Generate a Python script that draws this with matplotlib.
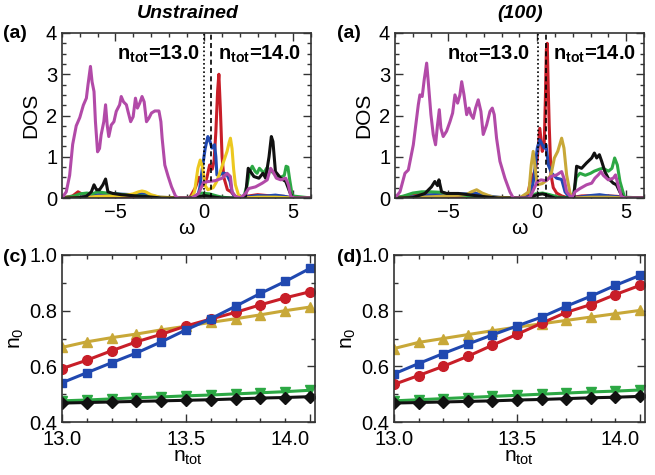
import matplotlib
matplotlib.use("Agg")
import matplotlib.pyplot as plt
from matplotlib.ticker import MultipleLocator

plt.rcParams["font.family"] = ["Liberation Sans", "DejaVu Sans"]
plt.rcParams["mathtext.fontset"] = "custom"
plt.rcParams["mathtext.rm"] = "Liberation Sans"
plt.rcParams["mathtext.it"] = "Liberation Sans:italic"
plt.rcParams["mathtext.bf"] = "Liberation Sans:bold"

# ---- DOS, unstrained (panel a, left) ----
mag_a_w = [-8.0, -7.76, -7.57, -7.4, -7.2, -7.0, -6.8, -6.63, -6.54, -6.4, -6.31, -6.2, -6.12, -6.0,
           -5.89, -5.8, -5.65, -5.55, -5.46, -5.37, -5.23, -5.08, -4.95, -4.76, -4.67, -4.54, -4.38,
           -4.29, -4.14, -4.0, -3.87, -3.76, -3.63, -3.5, -3.38, -3.25, -3.12, -2.97, -2.78, -2.55,
           -2.44, -2.37, -2.22, -2.03, -1.84, -1.61, -1.45, -0.7, -0.32, -0.04, 0.24, 0.62, 1.0,
           1.28, 1.47, 1.56, 1.75, 2.03, 2.32, 2.5, 2.88, 3.26, 3.54, 3.73, 3.86, 4.05, 4.3, 4.58,
           4.73, 4.86, 5.05, 6.0]
mag_a = [0, 0.15, 0.55, 1.3, 1.75, 1.95, 2.25, 2.42, 2.74, 3.19, 2.82, 2.58, 1.85, 1.12,
         1.2, 1.53, 1.85, 2.26, 1.77, 1.49, 1.77, 1.85, 2.10, 2.26, 2.46, 2.33, 2.26,
         2.10, 1.85, 1.97, 2.42, 2.18, 2.30, 2.46, 2.33, 1.85, 1.93, 2.06, 2.11, 2.11,
         1.85, 1.45, 0.80, 0.52, 0.27, 0.04, 0, 0, 0.11, 0.38, 0.40, 0.42, 0.48,
         0.60, 0.52, 0.15, 0.04, 0, 0.11, 0.23, 0.27, 0.36, 0.44, 0.72, 0.64, 0.48, 0.44, 0.48,
         0.32, 0.04, 0, 0]

red_a_w = [-8.0, -7.4, -7.1, -6.9, -6.6, -6.0, -5.0, -4.0, -3.0, -1.0, -0.8, -0.5, -0.3, -0.15,
           0.0, 0.15, 0.3, 0.45, 0.55, 0.65, 0.75, 0.82, 0.9, 1.0, 1.1, 1.3, 1.5, 1.7, 2.0, 2.5,
           3.0, 3.5, 4.0, 4.5, 4.9, 6.0]
red_a = [0, 0.05, 0.15, 0.1, 0.05, 0.03, 0.02, 0.02, 0.01, 0, 0.02, 0.25, 0.5, 0.35,
         0.3, 0.5, 0.8, 0.7, 0.9, 1.6, 2.6, 3.0, 2.2, 1.0, 0.5, 0.2, 0.15, 0.05, 0, 0.05,
         0.08, 0.06, 0.05, 0.04, 0, 0]

blue_a_w = [-8.0, -7.0, -6.5, -6.0, -5.0, -4.0, -3.5, -3.0, -2.5, -1.5, -0.4, -0.26, -0.1, 0.05,
            0.2, 0.3, 0.43, 0.58, 0.65, 0.71, 0.85, 0.99, 1.15, 1.28, 1.45, 1.56, 1.75, 2.5, 3.0,
            3.5, 4.0, 4.5, 5.0, 6.0]
blue_a = [0, 0.02, 0.05, 0.08, 0.1, 0.08, 0.1, 0.06, 0.02, 0, 0, 0.23, 0.75, 1.2,
          1.49, 1.4, 1.21, 1.29, 1.0, 0.56, 0.55, 0.6, 0.6, 0.56, 0.4, 0.15, 0, 0.03, 0.06,
          0.05, 0.07, 0.04, 0, 0]

yel_a_w = [-8.0, -6.5, -6.0, -5.0, -4.5, -4.0, -3.7, -3.5, -3.3, -3.0, -2.5, -1.0, -0.7, -0.55,
           -0.36, -0.23, -0.1, 0.05, 0.2, 0.5, 0.7, 0.9, 1.1, 1.28, 1.4, 1.47, 1.56, 1.65, 1.75,
           1.94, 2.2, 3.0, 4.0, 5.0, 6.0]
yel_a = [0, 0.02, 0.04, 0.05, 0.06, 0.1, 0.15, 0.17, 0.15, 0.08, 0.02, 0, 0.02, 0.15,
         0.72, 0.92, 0.75, 0.3, 0.2, 0.25, 0.4, 0.64, 0.9, 1.13, 1.35, 1.45, 1.2, 0.7, 0.32,
         0.05, 0, 0.02, 0.02, 0, 0]

green_a_w = [-8.0, -7.3, -7.0, -6.6, -6.3, -6.0, -5.5, -5.0, -4.5, -4.0, -3.5, -3.0, -2.5, -1.0,
             -0.5, -0.2, 0.3, 0.7, 1.0, 1.5, 2.2, 2.4, 2.55, 2.7, 2.85, 2.97, 3.1, 3.25, 3.35,
             3.5, 3.7, 3.9, 4.1, 4.3, 4.5, 4.6, 4.7, 4.8, 4.95, 6.0]
green_a = [0, 0.05, 0.1, 0.12, 0.1, 0.15, 0.12, 0.1, 0.08, 0.06, 0.05, 0.03, 0.01, 0,
           0.05, 0.12, 0.1, 0.05, 0.02, 0, 0, 0.3, 0.65, 0.77, 0.65, 0.6, 0.72, 0.65, 0.6,
           0.72, 0.68, 0.6, 0.52, 0.5, 0.55, 0.77, 0.75, 0.45, 0.05, 0]

black_a_w = [-8.0, -7.0, -6.63, -6.35, -6.2, -6.06, -5.89, -5.7, -5.55, -5.42, -5.14, -4.67, -4.1,
             -3.16, -2.4, -1.0, -0.3, 0.0, 0.3, 0.6, 1.0, 2.2, 2.32, 2.47, 2.6, 2.79, 3.07, 3.3,
             3.45, 3.64, 3.77, 3.86, 4.0, 4.3, 4.58, 4.8, 4.96, 6.0]
black_a = [0, 0.01, 0.04, 0.15, 0.32, 0.2, 0.2, 0.32, 0.46, 0.15, 0.11, 0.08, 0.06,
           0.03, 0, 0, 0.03, 0.06, 0.04, 0.02, 0, 0, 0.04, 0.72, 0.64, 0.52, 0.48, 0.6,
           0.48, 1.0, 1.49, 1.37, 0.64, 0.48, 0.4, 0.15, 0, 0]

# ---- DOS, (100) strain (panel a, right) ----
mag_b_w = [-8.0, -7.72, -7.44, -7.25, -6.97, -6.69, -6.6, -6.47, -6.36, -6.22, -6.13, -5.98, -5.85,
           -5.72, -5.61, -5.51, -5.42, -5.29, -5.1, -4.91, -4.76, -4.63, -4.48, -4.35, -4.25,
           -4.12, -3.97, -3.84, -3.73, -3.6, -3.47, -3.32, -3.17, -3.04, -2.85, -2.66, -2.53,
           -2.42, -2.29, -2.1, -1.82, -1.54, -1.35, -0.5, -0.38, 0.0, 0.21, 0.49, 0.77, 1.09,
           1.37, 1.52, 1.65, 1.93, 2.12, 2.4, 2.77, 3.06, 3.24, 3.43, 3.58, 3.71, 3.99, 4.27,
           4.4, 4.55, 4.73, 4.9, 6.0]
mag_b = [0, 0.15, 0.6, 0.68, 1.29, 2.26, 2.5, 2.46, 2.86, 3.27, 2.82, 2.02, 1.54,
         1.29, 1.77, 2.14, 1.69, 1.49, 1.62, 1.85, 2.06, 2.5, 2.3, 2.5, 2.82,
         2.5, 2.02, 2.18, 2.02, 1.93, 2.18, 2.38, 2.1, 1.54, 1.77, 2.1, 2.18,
         2.02, 1.45, 0.89, 0.48, 0.15, 0, 0, 0.04, 0.4, 0.44, 0.42, 0.52, 0.56,
         0.64, 0.45, 0.15, 0, 0.15, 0.23, 0.32, 0.36, 0.48, 0.56, 0.64, 0.55, 0.44, 0.48,
         0.56, 0.3, 0.04, 0, 0]

red_b_w = [-8.0, -7.0, -6.5, -6.0, -5.0, -4.0, -3.0, -1.0, -0.56, -0.38, -0.23, -0.1, 0.0, 0.14,
           0.28, 0.39, 0.46, 0.51, 0.56, 0.62, 0.67, 0.77, 0.9, 1.09, 1.37, 1.75, 2.5, 3.5, 4.5,
           5.0, 6.0]
red_b = [0, 0.08, 0.12, 0.06, 0.03, 0.02, 0.01, 0, 0.05, 0.4, 0.55, 0.7, 0.97, 1.69,
         1.13, 1.29, 2.5, 3.6, 3.75, 2.6, 1.77, 0.56, 0.25, 0.12, 0.05, 0, 0.05, 0.06, 0.04,
         0, 0]

blue_b_w = [-8.0, -7.0, -6.0, -5.0, -4.0, -3.5, -3.0, -2.0, -1.0, -0.38, -0.19, 0.0, 0.14, 0.28,
            0.39, 0.49, 0.62, 0.81, 1.09, 1.37, 1.56, 1.84, 2.5, 3.0, 3.5, 4.0, 4.5, 5.0, 6.0]
blue_b = [0, 0.03, 0.08, 0.1, 0.1, 0.12, 0.06, 0.01, 0, 0.04, 0.48, 1.21, 1.41, 1.29,
          1.21, 1.29, 0.8, 0.6, 0.48, 0.45, 0.15, 0, 0.03, 0.06, 0.08, 0.05, 0.03, 0, 0]

yel_b_w = [-8.0, -6.5, -5.0, -4.0, -3.7, -3.41, -3.1, -2.5, -1.0, -0.47, -0.34, -0.23, -0.14, 0.0,
           0.28, 0.56, 0.77, 0.96, 1.15, 1.37, 1.5, 1.65, 1.84, 2.02, 3.0, 4.0, 5.0, 6.0]
yel_b = [0, 0.02, 0.05, 0.08, 0.15, 0.2, 0.12, 0.02, 0, 0.15, 0.8, 1.13, 0.8, 0.32,
         0.35, 0.44, 0.56, 0.97, 1.13, 1.45, 1.21, 0.56, 0.12, 0, 0.02, 0.02, 0, 0]

green_b_w = [-8.0, -7.5, -7.0, -6.5, -6.0, -5.5, -5.0, -4.5, -4.0, -3.0, -2.0, -0.5, -0.1, 0.3,
             0.7, 1.2, 2.0, 2.2, 2.4, 2.7, 3.0, 3.2, 3.5, 3.7, 4.0, 4.2, 4.35, 4.5, 4.65, 4.9, 6.0]
green_b = [0, 0.05, 0.12, 0.15, 0.15, 0.14, 0.1, 0.08, 0.05, 0.03, 0, 0, 0.1, 0.12,
           0.08, 0.02, 0, 0.5, 0.6, 0.55, 0.6, 0.65, 0.7, 0.72, 0.65, 0.72, 0.97, 0.8, 0.4, 0.02, 0]

black_b_w = [-8.0, -7.0, -6.79, -6.32, -5.95, -5.76, -5.61, -5.53, -5.38, -5.1, -4.44, -3.7, -2.94,
             -2.2, -0.5, 0.0, 0.3, 0.6, 1.0, 2.05, 2.21, 2.49, 2.77, 3.06, 3.21, 3.34, 3.49, 3.62,
             3.8, 3.99, 4.27, 4.45, 4.64, 4.83, 6.0]
black_b = [0, 0.01, 0.04, 0.11, 0.27, 0.4, 0.3, 0.44, 0.15, 0.11, 0.11, 0.07, 0.03,
           0, 0, 0.08, 0.1, 0.06, 0, 0, 0.77, 0.72, 0.85, 0.97, 1.09, 0.97, 1.05, 0.89,
           0.64, 0.48, 0.36, 0.32, 0.15, 0, 0]

# Fermi levels (dotted: n_tot = 13.0, dashed: n_tot = 14.0)
ef_a = [0.0, 0.38]
ef_b = [0.02, 0.48]

# ---- orbital occupations vs n_tot ----
n_tot = [13.0, 13.1, 13.2, 13.3, 13.4, 13.5, 13.6, 13.7, 13.8, 13.9, 14.0]

n0_blue_c = [0.541, 0.577, 0.613, 0.648, 0.688, 0.731, 0.771, 0.816, 0.862, 0.905, 0.952]
n0_red_c = [0.592, 0.622, 0.656, 0.688, 0.715, 0.745, 0.770, 0.794, 0.821, 0.846, 0.868]
n0_yel_c = [0.668, 0.688, 0.703, 0.716, 0.731, 0.744, 0.758, 0.771, 0.785, 0.800, 0.813]
n0_green_c = [0.476, 0.479, 0.483, 0.487, 0.490, 0.494, 0.497, 0.501, 0.505, 0.509, 0.514]
n0_black_c = [0.468, 0.470, 0.472, 0.474, 0.476, 0.478, 0.480, 0.483, 0.486, 0.488, 0.491]

n0_blue_d = [0.573, 0.610, 0.646, 0.680, 0.713, 0.745, 0.777, 0.816, 0.852, 0.891, 0.927]
n0_red_d = [0.535, 0.567, 0.600, 0.636, 0.676, 0.715, 0.755, 0.794, 0.822, 0.858, 0.891]
n0_yel_d = [0.664, 0.686, 0.700, 0.714, 0.728, 0.741, 0.753, 0.765, 0.777, 0.789, 0.801]
n0_green_d = [0.476, 0.480, 0.484, 0.488, 0.492, 0.496, 0.500, 0.504, 0.508, 0.511, 0.515]
n0_black_d = [0.468, 0.470, 0.472, 0.474, 0.476, 0.479, 0.481, 0.484, 0.487, 0.489, 0.492]

C_MAG = "#b24aa8"
C_RED = "#c81e28"
C_BLUE = "#2048b0"
C_GREEN = "#2ca844"
C_BLACK = "#111111"
C_YEL_A = "#ecc820"
C_YEL = "#c8a838"

W, H = 655, 475
fig = plt.figure(figsize=(W / 100, H / 100), dpi=100)


def px_axes(x0, y0, x1, y1):
    return fig.add_axes([x0 / W, 1 - y1 / H, (x1 - x0) / W, (y1 - y0) / H])


def style(ax):
    ax.tick_params(which="both", direction="in", top=True, right=True, labelsize=14.5,
                   width=1.0, color="#333333")
    ax.tick_params(which="major", length=6)
    ax.tick_params(which="minor", length=3)
    for s in ax.spines.values():
        s.set_linewidth(1.2)
        s.set_color("#333333")


def dos_panel(ax, curves, ef, ytxt_right):
    for w, d, c in curves:
        ax.plot(w, d, color=c, lw=2.2)
    ax.axvline(ef[0], color="k", ls=(0, (1, 1.5)), lw=1.2)
    ax.axvline(ef[1], color="k", ls=(0, (3, 2)), lw=1.2)
    ax.set_xlim(-8, 6)
    ax.set_ylim(0, 4)
    ax.xaxis.set_major_locator(MultipleLocator(5))
    ax.xaxis.set_minor_locator(MultipleLocator(1))
    ax.yaxis.set_major_locator(MultipleLocator(1))
    ax.yaxis.set_minor_locator(MultipleLocator(0.25))
    ax.set_ylabel("DOS", fontsize=15, labelpad=4)
    ax.set_xlabel("ω", fontsize=15, labelpad=-2)
    style(ax)
    ax.text(ytxt_right, 3.48, r"$\mathbf{n_{tot}}$=13.0", ha="right", va="center",
            fontsize=14.5, fontweight="bold")
    ax.text(ef[1] + 0.38, 3.48, r"$\mathbf{n_{tot}}$=14.0", ha="left", va="center",
            fontsize=14.5, fontweight="bold")


def occ_panel(ax, blue, red, yel, green, black):
    ms = 7
    ax.plot(n_tot, green, color=C_GREEN, lw=2.2, marker="v", ms=ms)
    ax.plot(n_tot, black, color=C_BLACK, lw=2.2, marker="D", ms=6)
    ax.plot(n_tot, yel, color=C_YEL, lw=2.2, marker="^", ms=ms)
    ax.plot(n_tot, red, color=C_RED, lw=2.2, marker="o", ms=ms)
    ax.plot(n_tot, blue, color=C_BLUE, lw=2.2, marker="s", ms=6)
    ax.set_xlim(13.0, 14.02)
    ax.set_ylim(0.4, 1.0)
    ax.set_xticks([13.0, 13.5, 14.0])
    ax.set_xticklabels(["13.0", "13.5", "14.0"])
    ax.xaxis.set_minor_locator(MultipleLocator(0.1))
    ax.yaxis.set_major_locator(MultipleLocator(0.2))
    ax.yaxis.set_minor_locator(MultipleLocator(0.1))
    ax.set_ylabel(r"$\mathregular{n_0}$", fontsize=15, labelpad=2)
    ax.set_xlabel(r"$\mathregular{n_{tot}}$", fontsize=15, labelpad=-1)
    style(ax)
    ax.tick_params(axis="x", pad=6)
    ax.get_xticklabels()[-1].set_horizontalalignment("right")


ax_a = px_axes(62, 33, 311, 198)
dos_panel(ax_a, [(red_a_w, red_a, C_RED), (blue_a_w, blue_a, C_BLUE),
                 (green_a_w, green_a, C_GREEN), (yel_a_w, yel_a, C_YEL_A),
                 (black_a_w, black_a, C_BLACK), (mag_a_w, mag_a, C_MAG)], ef_a, -0.25)

ax_b = px_axes(395, 33, 644, 198)
dos_panel(ax_b, [(red_b_w, red_b, C_RED), (blue_b_w, blue_b, C_BLUE),
                 (green_b_w, green_b, C_GREEN), (yel_b_w, yel_b, C_YEL),
                 (black_b_w, black_b, C_BLACK), (mag_b_w, mag_b, C_MAG)], ef_b, -0.4)

ax_c = px_axes(62, 255, 315, 422)
occ_panel(ax_c, n0_blue_c, n0_red_c, n0_yel_c, n0_green_c, n0_black_c)

ax_d = px_axes(394, 255, 645, 422)
occ_panel(ax_d, n0_blue_d, n0_red_d, n0_yel_d, n0_green_d, n0_black_d)

fig.text(188 / W, 1 - 14 / H, "Unstrained", ha="center", va="center", fontsize=14,
         fontweight="bold", fontstyle="italic")
fig.text(520 / W, 1 - 14 / H, "(100)", ha="center", va="center", fontsize=14,
         fontweight="bold", fontstyle="italic")
for x, y, s in [(3, 33, "(a)"), (337, 33, "(a)"), (3, 257, "(c)"), (337, 257, "(d)")]:
    fig.text(x / W, 1 - y / H, s, ha="left", va="center", fontsize=14, fontweight="bold")

fig.savefig("out.png", dpi=100)
